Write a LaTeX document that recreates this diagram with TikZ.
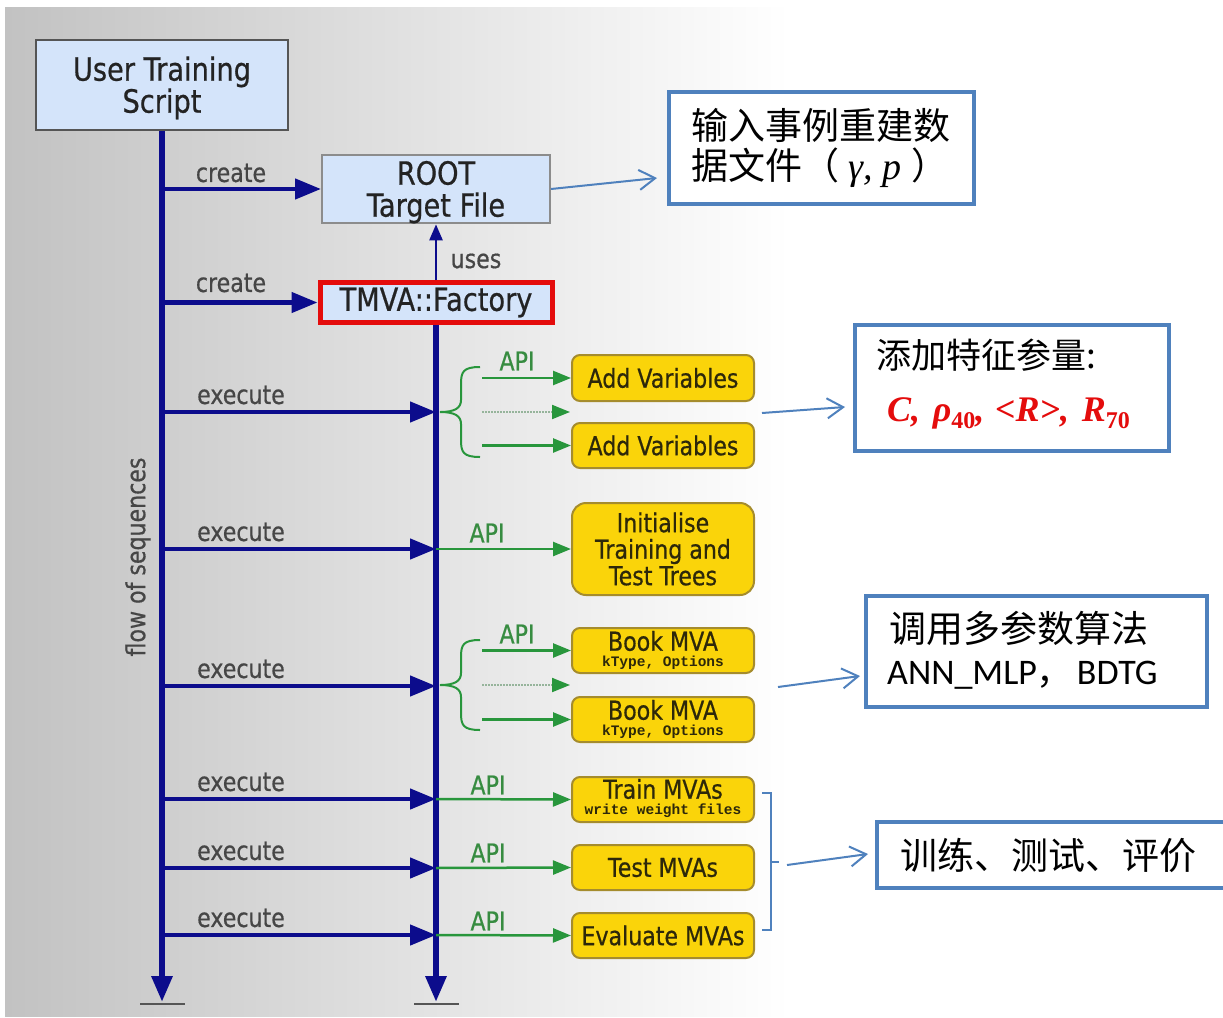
\documentclass[tikz,border=0pt]{standalone}
\usepackage{fontspec}
\usetikzlibrary{arrows.meta}
\newfontfamily\vera[FakeStretch=0.85,FakeBold=0.6]{DejaVu Sans}
\newfontfamily\cjk{Noto Sans CJK SC}
\newfontfamily\carl{Carlito}
\newfontfamily\lserif{Liberation Serif}
\newfontfamily\lmono{Liberation Mono}
\newcommand{\myfs}[1]{\fontsize{#1}{#1}\selectfont}
\newcommand{\lsub}[1]{\raisebox{-0.2em}{\myfs{24}\upshape #1}}
\definecolor{navy}{RGB}{12,12,140}
\definecolor{grn}{RGB}{40,150,60}
\definecolor{apigreen}{RGB}{55,140,65}
\definecolor{gdotc}{RGB}{150,180,155}
\definecolor{lblue}{RGB}{212,228,250}
\definecolor{ylw}{RGB}{250,212,10}
\definecolor{ybord}{RGB}{165,140,45}
\definecolor{callb}{RGB}{79,129,189}
\definecolor{redb}{RGB}{228,12,12}
\definecolor{bgL}{RGB}{194,194,194}
\definecolor{bgM}{RGB}{224,224,224}
\definecolor{txt}{RGB}{35,35,35}
\definecolor{lblc}{RGB}{70,70,70}
\definecolor{ytxt}{RGB}{45,40,10}
\definecolor{barc}{RGB}{85,85,85}
\definecolor{rootb}{RGB}{140,140,140}
\tikzset{
  bluebox/.style={draw=#1, fill=lblue, line width=2pt, inner sep=0pt, align=center, text=txt, font=\vera\myfs{32}},
  ybox/.style={draw=ybord, fill=ylw, line width=2pt, rounded corners=8pt, minimum width=182pt, inner sep=0pt, text=ytxt, font=\vera\myfs{26}, align=center},
  ytext/.style={inner sep=0pt, text=ytxt, font=\vera\myfs{26}},
  ysmall/.style={inner sep=0pt, text=ytxt, font=\lmono\bfseries\myfs{14.5}},
  navyarr/.style={draw=navy, line width=4.5pt, -{Triangle[length=26pt,width=20pt]}},
  navyline/.style={draw=navy, line width=6pt, -{Triangle[length=26pt,width=20pt]}},
  usesarr/.style={draw=navy, line width=2.5pt, -{Triangle[length=16pt,width=13pt]}},
  garr/.style={draw=grn, line width=2.5pt, -{Triangle[length=18pt,width=14pt]}},
  gdot/.style={draw=gdotc, line width=2pt, densely dotted, -{Triangle[length=18pt,width=14pt,color=grn]}},
  gbrace/.style={draw=grn, line width=2pt},
  lbl/.style={text=lblc, font=\vera\myfs{26}, inner sep=0pt},
  api/.style={text=apigreen, font=\vera\myfs{26}, inner sep=0pt},
  callout/.style={draw=callb, line width=4pt, fill=white, inner sep=0pt},
  carr/.style={draw=callb, line width=2pt, -{Straight Barb[length=16pt,width=20pt]}},
  cjkt/.style={font=\cjk\myfs{37}, anchor=west, inner sep=0pt, text=black},
  barline/.style={draw=barc, line width=2.5pt},
}
\begin{document}
\begin{tikzpicture}[x=1pt,y=-1pt]
\useasboundingbox (0,0) rectangle (1223,1017);
\fill[white] (0,0) rectangle (1223,1017);
\shade[left color=bgL, middle color=bgM, right color=white] (5,7) rectangle (790,1016);

% main boxes
\node[bluebox=barc, minimum width=252pt, minimum height=90pt] (user) at (162,85) {\rule{0pt}{30pt}User Training\\Script};
\node[bluebox=rootb, minimum width=228pt, minimum height=68pt] (root) at (436,189) {\rule{0pt}{30pt}ROOT\\Target File};
\node[bluebox=redb, line width=5pt, minimum width=232pt, minimum height=40pt] (fact) at (436,302.5) {TMVA::Factory};

% line ends
\coordinate (Lbot) at (162,1002);
\coordinate (Rbot) at (436,1002);
\draw[navyline] (user.south) -- (Lbot);
\draw[navyline] (fact.south) -- (Rbot);
\draw[barline] ([xshift=-22pt,yshift=-2pt]Lbot) -- ([xshift=23pt,yshift=-2pt]Lbot);
\draw[barline] ([xshift=-22pt,yshift=-2pt]Rbot) -- ([xshift=23pt,yshift=-2pt]Rbot);

\node[lbl, rotate=90] (flow) at (138,557) {flow of sequences};

% create arrows
\coordinate (Lc1) at (162,189);
\coordinate (Lc2) at (162,302.5);
\draw[navyarr] (Lc1) -- (root.west);
\draw[navyarr] (Lc2) -- (fact.west);
\node[lbl] (cr1) at (231,173) {create};
\node[lbl] (cr2) at (231,283) {create};
\draw[usesarr] (fact.north) -- (root.south);
\node[lbl] (uses) at (476,261) {uses};

% execute arrows
\foreach \i/\y in {1/412,2/549,3/686,4/799,5/868,6/935}{
  \coordinate (Le\i) at (162,\y);
  \coordinate (Re\i) at (436,\y);
  \draw[navyarr] (Le\i) -- (Re\i);
  \node[lbl] (ex\i) at (241,\y-17) {execute};
}

% yellow boxes
\node[ybox, minimum height=46pt] (av1) at (663,378) {Add Variables};
\node[ybox, minimum height=45pt] (av2) at (663,445.5) {Add Variables};
\node[ybox, minimum height=92pt, rounded corners=14pt, font=\vera\fontsize{26}{26.5}\selectfont] (init) at (663,549) {Initialise\\Training and\\Test Trees};
\node[ybox, minimum height=45pt] (bk1) at (663,650.5) {};
\node[ytext] (bk1t) at (663,641) {Book MVA};
\node[ysmall] (bk1s) at (663,663) {kType, Options};
\node[ybox, minimum height=45pt] (bk2) at (663,719.5) {};
\node[ytext] (bk2t) at (663,710) {Book MVA};
\node[ysmall] (bk2s) at (663,732) {kType, Options};
\node[ybox, minimum height=45pt] (trn) at (663,799.5) {};
\node[ytext] (trnt) at (663,789) {Train MVAs};
\node[ysmall] (trns) at (663,811) {write weight files};
\node[ybox, minimum height=45pt] (tst) at (663,867.5) {Test MVAs};
\node[ybox, minimum height=45pt] (evl) at (663,935.5) {Evaluate MVAs};

% green group 1
\draw[gbrace] (480,367) .. controls (463,367) and (461,372) .. (461,384) -- (461,400) .. controls (461,408) and (455,412) .. (440,412) .. controls (455,412) and (461,416) .. (461,424) -- (461,440) .. controls (461,452) and (463,457) .. (480,457);
\coordinate (g1a) at (482,378);
\coordinate (g1b) at (482,412);
\coordinate (g1be) at (570,412);
\coordinate (g1c) at (482,445.5);
\draw[garr] (g1a) -- (av1.west);
\draw[gdot] (g1b) -- (g1be);
\draw[garr] (g1c) -- (av2.west);
\node[api] (api1) at (517,361) {API};

% init
\draw[garr] (Re2) -- (init.west);
\node[api] (api2) at (487,533) {API};

% green group 2
\draw[gbrace] (480,640) .. controls (463,640) and (461,645) .. (461,657) -- (461,673) .. controls (461,681) and (455,685) .. (440,685) .. controls (455,685) and (461,689) .. (461,697) -- (461,713) .. controls (461,725) and (463,730) .. (480,730);
\coordinate (g2a) at (482,650.5);
\coordinate (g2b) at (482,685);
\coordinate (g2be) at (570,685);
\coordinate (g2c) at (482,719.5);
\draw[garr] (g2a) -- (bk1.west);
\draw[gdot] (g2b) -- (g2be);
\draw[garr] (g2c) -- (bk2.west);
\node[api] (api3) at (517,634) {API};

\draw[garr] (Re4) -- (trn.west);
\node[api] (api4) at (488,785) {API};
\draw[garr] (Re5) -- (tst.west);
\node[api] (api5) at (488,853) {API};
\draw[garr] (Re6) -- (evl.west);
\node[api] (api6) at (488,921) {API};

% callout boxes
\node[callout, minimum width=305pt, minimum height=112pt] (cb1) at (821.5,148) {};
\node[cjkt] (cb1a) at (691,125) {输入事例重建数};
\node[cjkt] (cb1b) at (691,168) {据文件（{\lserif\itshape\myfs{38} γ, p }）};

\node[callout, minimum width=314pt, minimum height=126pt] (cb2) at (1012,388) {};
\node[cjkt, font=\cjk\myfs{35}] (cb2a) at (876,355) {添加特征参量:};
\node[anchor=west, inner sep=0pt, text=redb, font=\lserif\bfseries\itshape\myfs{36}] (cb2b) at (887,413) {C,\hspace{0.35em}ρ\lsub{40},\hspace{0.3em}<R>,\hspace{0.35em}R\lsub{70}};

\node[callout, minimum width=341pt, minimum height=111pt] (cb3) at (1036.5,651.5) {};
\node[cjkt] (cb3a) at (889,628) {调用多参数算法};
\node[anchor=west, inner sep=0pt, text=black] (cb3b) at (887,675) {{\carl\myfs{36}ANN\_MLP}{\cjk\myfs{36}，}\hspace{4pt}{\carl\myfs{36}BDTG}};

\node[callout, minimum width=353pt, minimum height=66pt] (cb4) at (1053.5,855) {};
\node[cjkt] (cb4a) at (900,855) {训练、测试、评价};

% callout arrows
\coordinate (a1e) at (657,178);
\draw[carr] (root.east) -- (a1e);
\coordinate (a2s) at (762,413);
\coordinate (a2e) at (845,407);
\draw[carr] (a2s) -- (a2e);
\coordinate (a3s) at (778,687);
\coordinate (a3e) at (860,676);
\draw[carr] (a3s) -- (a3e);
\coordinate (brt) at (762,793);
\coordinate (brb) at (762,930);
\coordinate (brm) at (779,862);
\draw[callb, line width=2pt] (brt) -- (771,793) -- (771,930) -- (brb);
\draw[callb, line width=2pt] (771,862) -- (brm);
\coordinate (a4s) at (787,865);
\coordinate (a4e) at (868,854);
\draw[carr] (a4s) -- (a4e);
\end{tikzpicture}
\end{document}
